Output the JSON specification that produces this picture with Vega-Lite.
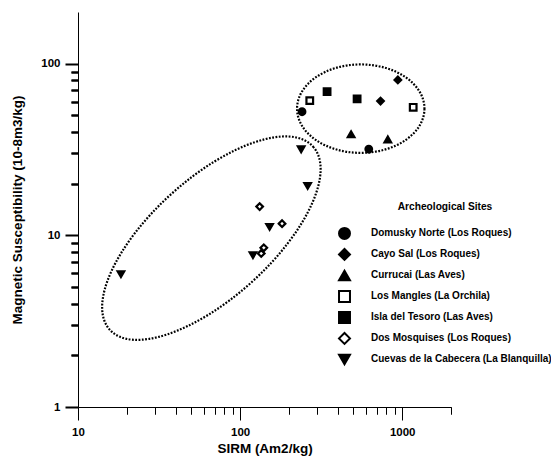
{
  "$schema": "https://vega.github.io/schema/vega-lite/v6.json",
  "width": 373,
  "height": 395,
  "autosize": {"type": "none"},
  "padding": {"left": 78, "top": 12, "right": 100, "bottom": 52},
  "background": "white",
  "config": {
    "view": {"stroke": null},
    "font": "Liberation Sans",
    "axis": {
      "grid": false,
      "domainColor": "black",
      "tickColor": "black",
      "tickWidth": 1,
      "labelColor": "black",
      "labelFontWeight": "bold"
    }
  },
  "resolve": {"axis": {"x": "independent", "y": "independent"}},
  "layer": [
    {
      "description": "Dotted outline around the high-SIRM group; also carries the minor log ticks",
      "data": {"values": [{"sirm": 555, "chi": 54.7}]},
      "mark": {
        "type": "point",
        "shape": "M 1 0 C 1 0.3833 0.5523 0.694 0 0.694 C -0.5523 0.694 -1 0.3833 -1 0 C -1 -0.3833 -0.5523 -0.694 0 -0.694 C 0.5523 -0.694 1 -0.3833 1 0 Z",
        "size": 16231,
        "filled": false,
        "fill": "transparent",
        "stroke": "black",
        "strokeWidth": 2.2,
        "strokeDash": [1.8, 1.5],
        "opacity": 1
      },
      "encoding": {
        "x": {
          "field": "sirm",
          "type": "quantitative",
          "scale": {"type": "log", "domain": [10, 2000], "nice": false},
          "axis": {
            "orient": "bottom",
            "title": null,
            "domain": false,
            "labels": false,
            "tickSize": 7,
            "tickColor": "black",
            "tickWidth": 1,
            "values": [20, 30, 40, 50, 60, 70, 80, 90, 200, 300, 400, 500, 600, 700, 800, 900, 2000]
          }
        },
        "y": {
          "field": "chi",
          "type": "quantitative",
          "scale": {"type": "log", "domain": [1, 200], "nice": false},
          "axis": {
            "orient": "left",
            "title": null,
            "domain": false,
            "labels": false,
            "tickSize": 7,
            "tickColor": "black",
            "tickWidth": 2,
            "values": [2, 3, 4, 5, 6, 7, 8, 9, 20, 30, 40, 50, 60, 70, 80, 90]
          }
        }
      }
    },
    {
      "description": "Dotted outline around the low-SIRM group",
      "data": {"values": [{"sirm": 66.5, "chi": 9.63}]},
      "mark": {
        "type": "point",
        "shape": "M 1 0 C 1 0.2408 0.5523 0.436 0 0.436 C -0.5523 0.436 -1 0.2408 -1 0 C -1 -0.2408 -0.5523 -0.436 0 -0.436 C 0.5523 -0.436 1 -0.2408 1 0 Z",
        "size": 74857,
        "angle": 318,
        "filled": false,
        "fill": "transparent",
        "stroke": "black",
        "strokeWidth": 2.2,
        "strokeDash": [1.8, 1.5],
        "opacity": 1
      },
      "encoding": {
        "x": {
          "field": "sirm",
          "type": "quantitative",
          "scale": {"type": "log", "domain": [10, 2000], "nice": false},
          "axis": {
            "orient": "bottom",
            "title": null,
            "domain": false,
            "labels": false,
            "tickSize": 7,
            "tickColor": "black",
            "tickWidth": 1,
            "values": [20, 30, 40, 50, 60, 70, 80, 90, 200, 300, 400, 500, 600, 700, 800, 900, 2000]
          }
        },
        "y": {
          "field": "chi",
          "type": "quantitative",
          "scale": {"type": "log", "domain": [1, 200], "nice": false},
          "axis": {
            "orient": "left",
            "title": null,
            "domain": false,
            "labels": false,
            "tickSize": 7,
            "tickColor": "black",
            "tickWidth": 2,
            "values": [2, 3, 4, 5, 6, 7, 8, 9, 20, 30, 40, 50, 60, 70, 80, 90]
          }
        }
      }
    },
    {
      "data": {
        "values": [
          {"site": "Domusky Norte (Los Roques)", "sirm": 241, "chi": 52.5},
          {"site": "Domusky Norte (Los Roques)", "sirm": 622, "chi": 31.8},
          {"site": "Cayo Sal (Los Roques)", "sirm": 735, "chi": 60.6},
          {"site": "Cayo Sal (Los Roques)", "sirm": 940, "chi": 80.4},
          {"site": "Currucai (Las Aves)", "sirm": 484, "chi": 38.8},
          {"site": "Currucai (Las Aves)", "sirm": 815, "chi": 36.2},
          {"site": "Los Mangles (La Orchila)", "sirm": 269, "chi": 60.9},
          {"site": "Los Mangles (La Orchila)", "sirm": 1169, "chi": 55.7},
          {"site": "Isla del Tesoro (Las Aves)", "sirm": 344, "chi": 68.7},
          {"site": "Isla del Tesoro (Las Aves)", "sirm": 527, "chi": 62.3},
          {"site": "Dos Mosquises (Los Roques)", "sirm": 132, "chi": 14.7},
          {"site": "Dos Mosquises (Los Roques)", "sirm": 181.5, "chi": 11.7},
          {"site": "Dos Mosquises (Los Roques)", "sirm": 140, "chi": 8.46},
          {"site": "Dos Mosquises (Los Roques)", "sirm": 135, "chi": 7.84},
          {"site": "Cuevas de la Cabecera (La Blanquilla)", "sirm": 238, "chi": 31.7},
          {"site": "Cuevas de la Cabecera (La Blanquilla)", "sirm": 261, "chi": 19.4},
          {"site": "Cuevas de la Cabecera (La Blanquilla)", "sirm": 152, "chi": 11.2},
          {"site": "Cuevas de la Cabecera (La Blanquilla)", "sirm": 120, "chi": 7.67},
          {"site": "Cuevas de la Cabecera (La Blanquilla)", "sirm": 18.4, "chi": 5.94}
        ]
      },
      "mark": {
        "type": "point",
        "size": 44,
        "stroke": "black",
        "strokeWidth": 2.2,
        "strokeJoin": "miter",
        "opacity": 1
      },
      "encoding": {
        "x": {
          "field": "sirm",
          "type": "quantitative",
          "scale": {"type": "log", "domain": [10, 2000], "nice": false},
          "axis": {
            "orient": "bottom",
            "title": "SIRM (Am2/kg)",
            "values": [10, 100, 1000],
            "format": "d",
            "tickSize": 13,
            "tickColor": "black",
            "tickWidth": 1,
            "labelFlush": false,
            "labelFont": "Liberation Sans",
            "labelFontSize": 11.5,
            "labelPadding": 6,
            "titleFont": "Liberation Sans",
            "titleFontSize": 13.5,
            "titleFontWeight": "bold",
            "titleColor": "black",
            "titlePadding": 4
          }
        },
        "y": {
          "field": "chi",
          "type": "quantitative",
          "scale": {"type": "log", "domain": [1, 200], "nice": false},
          "axis": {
            "orient": "left",
            "title": "Magnetic Susceptibility (10-8m3/kg)",
            "values": [1, 10, 100],
            "format": "d",
            "tickSize": 13,
            "tickColor": "black",
            "tickWidth": 2,
            "labelFlush": false,
            "labelFont": "Liberation Sans",
            "labelFontSize": 11.5,
            "labelPadding": 5,
            "titleFont": "Liberation Sans",
            "titleFontSize": 13.5,
            "titleFontWeight": "bold",
            "titleColor": "black",
            "titlePadding": 16
          }
        },
        "shape": {
          "field": "site",
          "type": "nominal",
          "scale": {
            "domain": ["Domusky Norte (Los Roques)", "Cayo Sal (Los Roques)", "Currucai (Las Aves)", "Los Mangles (La Orchila)", "Isla del Tesoro (Las Aves)", "Dos Mosquises (Los Roques)", "Cuevas de la Cabecera (La Blanquilla)"],
            "range": ["circle", "diamond", "triangle-up", "square", "square", "diamond", "triangle-down"]
          },
          "legend": {
            "title": "Archeological Sites",
            "orient": "none",
            "legendX": 260,
            "legendY": 190,
            "titleAnchor": "middle",
            "titleFont": "Liberation Sans",
            "titleFontSize": 10.2,
            "titleFontWeight": "bold",
            "titleColor": "black",
            "titlePadding": 14.7,
            "labelFont": "Liberation Sans",
            "labelFontSize": 10,
            "labelFontWeight": "bold",
            "labelColor": "black",
            "labelOffset": 20,
            "labelLimit": 400,
            "symbolSize": 120,
            "symbolStrokeWidth": 2,
            "rowPadding": 2,
            "encode": {
              "symbols": {"update": {"stroke": {"value": "black"}, "strokeWidth": {"value": 2}, "opacity": {"value": 1}}}
            }
          }
        },
        "fill": {
          "field": "site",
          "type": "nominal",
          "scale": {
            "domain": ["Domusky Norte (Los Roques)", "Cayo Sal (Los Roques)", "Currucai (Las Aves)", "Los Mangles (La Orchila)", "Isla del Tesoro (Las Aves)", "Dos Mosquises (Los Roques)", "Cuevas de la Cabecera (La Blanquilla)"],
            "range": ["black", "black", "black", "white", "black", "white", "black"]
          }
        }
      }
    }
  ]
}
